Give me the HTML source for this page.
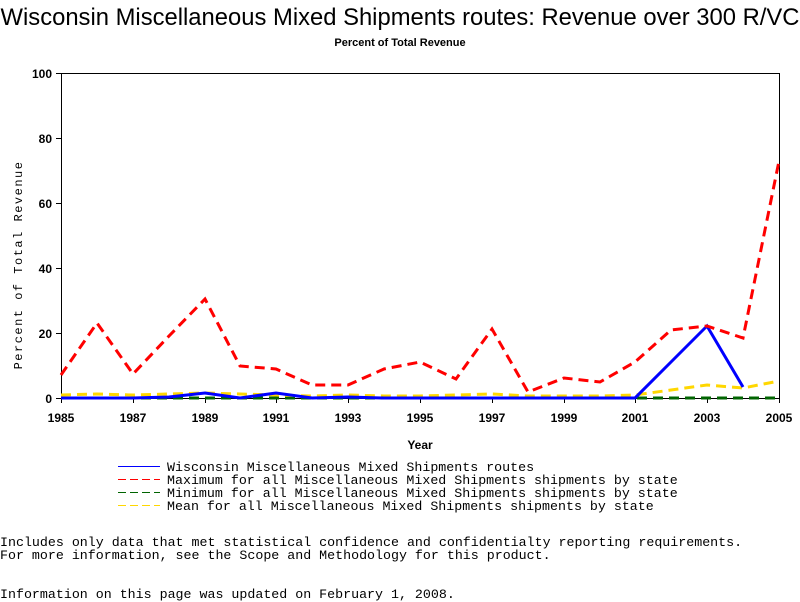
<!DOCTYPE html>
<html><head><style>
body{margin:0;background:#fff;width:800px;height:600px;overflow:hidden;position:relative}
.t{position:absolute;white-space:pre;font-family:"Liberation Mono",monospace;font-size:13.3px;color:#000}
</style></head><body>
<div style="position:absolute;left:0;top:4px;width:800px;text-align:center;font-family:'Liberation Sans',sans-serif;font-size:23.8px;white-space:nowrap">Wisconsin Miscellaneous Mixed Shipments routes: Revenue over 300 R/VC</div>
<div style="position:absolute;left:0;top:37px;width:800px;text-align:center;font-family:'Liberation Sans',sans-serif;font-size:11px;font-weight:bold">Percent of Total Revenue</div>
<svg width="800" height="600" style="position:absolute;left:0;top:0" font-family="Liberation Sans,sans-serif">
<g stroke="#000" stroke-width="1" fill="none">
<rect x="61.5" y="73.5" width="718" height="325"/>
<path d="M56 73.5h5M56 138.5h5M56 203.5h5M56 268.5h5M56 333.5h5M56 398.5h5"/>
<path d="M61.5 398v5M133.5 398v5M205.5 398v5M276.5 398v5M348.5 398v5M420.5 398v5M492.5 398v5M564.5 398v5M635.5 398v5M707.5 398v5M779.5 398v5"/>
</g>
<g font-size="12" font-weight="bold" text-anchor="end">
<text x="52" y="78">100</text><text x="52" y="143">80</text><text x="52" y="208">60</text><text x="52" y="273">40</text><text x="52" y="338">20</text><text x="52" y="403">0</text>
</g>
<g font-size="12" font-weight="bold" text-anchor="middle">
<text x="61" y="422">1985</text><text x="133" y="422">1987</text><text x="205" y="422">1989</text><text x="276" y="422">1991</text><text x="348" y="422">1993</text><text x="420" y="422">1995</text><text x="492" y="422">1997</text><text x="564" y="422">1999</text><text x="635" y="422">2001</text><text x="707" y="422">2003</text><text x="779" y="422">2005</text>
<text x="420" y="449">Year</text>
</g>
<text transform="translate(22,265) rotate(-90)" font-family="Liberation Mono,monospace" font-size="12" text-anchor="middle" letter-spacing="1.5">Percent of Total Revenue</text>
<g fill="none" stroke-width="3">
<polyline stroke="#006400" stroke-dasharray="10,6" points="61,398 779,398"/>
<polyline stroke="#ffd700" stroke-dasharray="10,6" points="61,395 97,394 133,395 169,394 205,393 240,394 276,395 312,396 348,395 384,396 420,396 456,395 492,394 528,396 564,396 600,396 635,395 671,390 707,385 743,388 779,381"/>
<polyline stroke="#0000ff" points="61,398 97,398 133,398 169,397 205,393 240,398 276,393 312,398 348,397 384,398 420,398 456,398 492,398 528,398 564,398 600,398 635,398 671,362 707,326 743,387"/>
<polyline stroke="#ff0000" stroke-dasharray="10,6" points="61,375 97,323 133,374 169,336 205,299 240,366 276,369 312,385 348,385 384,369 420,362 456,379 492,329 528,392 564,378 600,382 635,362 671,330 707,326 743,338 779,161"/>
</g>
<g stroke-width="1">
<line x1="118" y1="466.5" x2="160" y2="466.5" stroke="#0000ff"/>
<line x1="118" y1="479.5" x2="160" y2="479.5" stroke="#ff0000" stroke-dasharray="8,4"/>
<line x1="118" y1="492.5" x2="160" y2="492.5" stroke="#006400" stroke-dasharray="8,4"/>
<line x1="118" y1="505.5" x2="160" y2="505.5" stroke="#ffd700" stroke-dasharray="8,4"/>
</g>
</svg>
<div class="t" style="left:167px;top:460px">Wisconsin Miscellaneous Mixed Shipments routes</div>
<div class="t" style="left:167px;top:473px">Maximum for all Miscellaneous Mixed Shipments shipments by state</div>
<div class="t" style="left:167px;top:486px">Minimum for all Miscellaneous Mixed Shipments shipments by state</div>
<div class="t" style="left:167px;top:499px">Mean for all Miscellaneous Mixed Shipments shipments by state</div>
<div class="t" style="left:0;top:535px">Includes only data that met statistical confidence and confidentialty reporting requirements.</div>
<div class="t" style="left:0;top:548px">For more information, see the Scope and Methodology for this product.</div>
<div class="t" style="left:0;top:587px">Information on this page was updated on February 1, 2008.</div>
</body></html>
